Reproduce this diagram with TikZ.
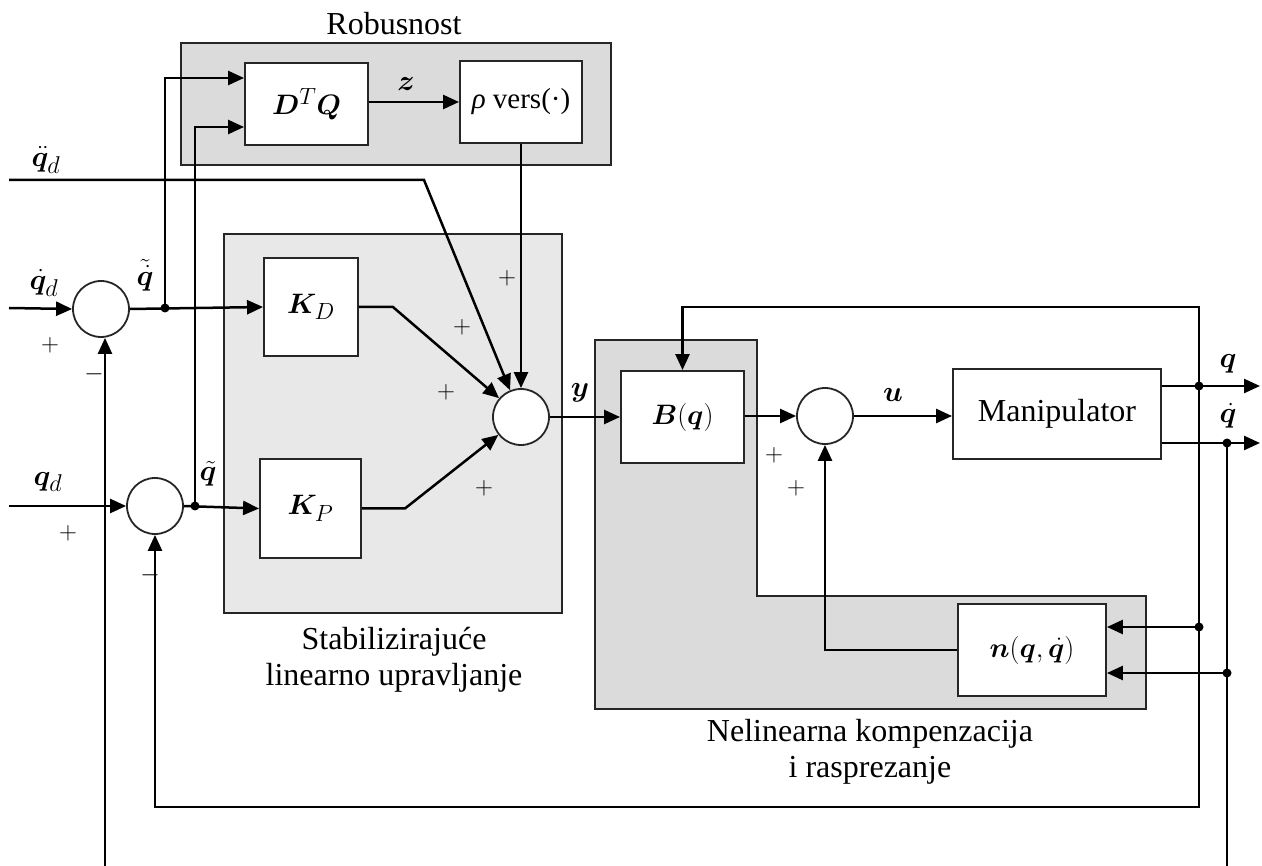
\documentclass[tikz,border=0pt]{standalone}
\usepackage{amsmath}
\usepackage{bm}
\usepackage{graphicx}
\usepackage{fontspec}
\setmainfont{Liberation Serif}
\usetikzlibrary{arrows.meta,calc}
\newcommand{\mthbig}[1]{\scalebox{1.13}{\fontsize{24.88}{28}\selectfont$#1$}}
\newcommand{\mthlbl}[1]{\scalebox{1.17}{\fontsize{24.88}{28}\selectfont$#1$}}
\begin{document}
\begin{tikzpicture}[x=1pt,y=-1pt,
  font=\fontsize{32}{36}\selectfont,
  blk/.style={draw=black!85, line width=1.9pt, fill=white, inner sep=0pt},
  sumc/.style={circle, draw=black!85, line width=1.8pt, fill=white, minimum size=56pt, inner sep=0pt},
  wire/.style={line width=2.5pt},
  arr/.style={wire, -{Triangle[length=16pt,width=14pt]}},
  dotc/.style={circle, fill=black, inner sep=0pt, minimum size=9pt},
  grp/.style={draw=black!85, line width=1.9pt},
  lbl/.style={inner sep=0pt},
  mlbl/.style={inner sep=0pt},
  sgn/.style={inner sep=0pt, font=\fontsize{24.88}{28}\selectfont}]
\useasboundingbox (0,0) rectangle (1262,866);

% group backgrounds
\draw[grp, fill=black!14] (181,43) rectangle (611,165);
\draw[grp, fill=black!9] (224,234) rectangle (562,613);
\draw[grp, fill=black!14] (595,340) -- (757,340) -- (757,596) -- (1146,596) -- (1146,709) -- (595,709) -- cycle;

\node[lbl] (trob) at (394,24) {Robusnost};
\node[lbl, align=center] (tstab) at (394,660) {Stabilizirajuće\\linearno upravljanje};
\node[lbl, align=center] (tnel) at (870,752) {Nelinearna kompenzacija\\i rasprezanje};

% blocks
\node[blk, minimum width=123pt, minimum height=82pt] (dtq) at (306.5,104) {\mthbig{\bm{D}^{T}\bm{Q}}};
\node[blk, minimum width=122pt, minimum height=82pt, font=\fontsize{29}{32}\selectfont] (rho) at (521,102) {\textit{ρ} vers(·)};
\node[blk, minimum width=94pt, minimum height=98pt] (kd) at (311,307) {\mthbig{\bm{K}_{D}}};
\node[blk, minimum width=101pt, minimum height=99pt] (kp) at (310.5,508.5) {\mthbig{\bm{K}_{P}}};
\node[blk, minimum width=123pt, minimum height=92pt] (bq) at (682.5,417) {\mthbig{\bm{B}(\bm{q})}};
\node[blk, minimum width=208pt, minimum height=90pt] (manip) at (1057,414) {Manipulator};
\node[blk, minimum width=148pt, minimum height=92pt] (n) at (1032,650) {\mthbig{\bm{n}(\bm{q},\bm{\dot q})}};

% summing junctions
\node[sumc] (sumA) at (101,309) {};
\node[sumc] (sumB) at (155,506) {};
\node[sumc] (sumY) at (521,417) {};
\node[sumc] (sum2) at (825,416) {};

% branch dots
\node[dotc] (dA) at (165,308) {};
\node[dotc] (dB) at (195,506) {};
\node[dotc] (dq) at (1199,386) {};
\node[dotc] (dqd) at (1227,443) {};
\node[dotc] (dn1) at (1199,627) {};
\node[dotc] (dn2) at (1227,673) {};

% free ends
\coordinate (qddin) at (9,180);
\coordinate (qddk) at (424,180);
\coordinate (qdin) at (9,308);
\coordinate (qin) at (9,506);
\coordinate (qo) at (1260,386);
\coordinate (qdo) at (1260,443);
\coordinate (ftop) at (1199,307);
\coordinate (fbot) at (1199,807);
\coordinate (qdbot) at (1227,866);
\coordinate (lbot) at (105,866);

% connectors
\draw[arr] (qddin) -- (qddk) -- (sumY);
\draw[arr] (rho.south) -- (sumY.north);
\draw[arr] (kd.east) -- ++(34,0) -- (sumY);
\draw[arr] (kp.east) -- ++(43,0) -- (sumY);
\draw[arr] (qdin) -- (sumA.west);
\draw[arr] (sumA.east) -- (kd.west);
\draw[arr] (qin) -- (sumB.west);
\draw[arr] (sumB.east) -- (kp.west);
\draw[arr] (dA.center) |- ([yshift=26pt]dtq.west);
\draw[arr] (dB.center) |- ([yshift=-23pt]dtq.west);
\draw[arr] (dtq.east |- rho) -- (rho.west);
\draw[arr] (sumY.east) -- (bq.west |- sumY);
\draw[arr] (bq.east |- sum2) -- (sum2.west);
\draw[arr] (sum2.east) -- (manip.west |- sum2);
\draw[arr] (manip.east |- qo) -- (qo);
\draw[arr] (manip.east |- qdo) -- (qdo);
\draw[arr] (dq.center) -- (ftop) -| (bq.north);
\draw[arr] (dq.center) -- (fbot) -| (sumB.south);
\draw[arr] (dn1.center) -- (n.east |- dn1);
\draw[arr] (dn2.center) -- (n.east |- dn2);
\draw[wire] (dqd.center) -- (qdbot);
\draw[arr] (n.west) -| (sum2.south);
\draw[arr] (lbot) -- (lbot |- sumA.south);

% signal labels
\node[mlbl] (lqdd) at (46,160) {\mthlbl{\bm{\ddot q}_{d}}};
\node[mlbl] (lqd) at (44,283) {\mthlbl{\bm{\dot q}_{d}}};
\node[mlbl] (lq) at (48,482) {\mthlbl{\bm{q}_{d}}};
\node[mlbl] (ltqd) at (145,275) {\mthlbl{\bm{\tilde{\dot q}}}};
\node[mlbl] (ltq) at (208,474) {\mthlbl{\bm{\tilde q}}};
\node[mlbl] (lz) at (406,84) {\mthlbl{\bm{z}}};
\node[mlbl] (ly) at (580,393) {\mthlbl{\bm{y}}};
\node[mlbl] (lu) at (893,395) {\mthlbl{\bm{u}}};
\node[mlbl] (lqo) at (1228,364) {\mthlbl{\bm{q}}};
\node[mlbl] (lqdo) at (1228,416) {\mthlbl{\bm{\dot q}}};

% signs
\node[sgn] (s1) at (50,345) {$+$};
\node[sgn] (s2) at (94,374) {$-$};
\node[sgn] (s3) at (68,533) {$+$};
\node[sgn] (s4) at (150,575) {$-$};
\node[sgn] (s5) at (507,278) {$+$};
\node[sgn] (s6) at (462,327) {$+$};
\node[sgn] (s7) at (446,392) {$+$};
\node[sgn] (s8) at (484,488) {$+$};
\node[sgn] (s9) at (774,455) {$+$};
\node[sgn] (s10) at (796,488) {$+$};
\end{tikzpicture}
\end{document}
